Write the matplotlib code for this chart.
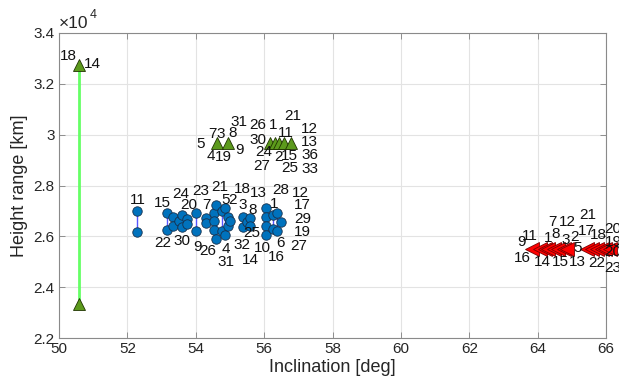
import matplotlib
matplotlib.use("Agg")
import matplotlib.pyplot as plt
from matplotlib.ticker import FuncFormatter
from collections import OrderedDict

plt.rcParams['font.family'] = ['Liberation Sans', 'DejaVu Sans']

# ---------------- data ----------------
blue_incl = [52.29, 52.29, 53.15, 53.15, 53.34, 53.34, 53.52, 53.59, 53.59, 53.73,
             53.73, 54.01, 54.01, 54.30, 54.30, 54.54, 54.54, 54.54, 54.59, 54.59,
             54.76, 54.76, 54.85, 54.85, 54.95, 54.95, 55.00, 55.37, 55.37, 55.50,
             55.59, 55.59, 56.05, 56.05, 56.05, 56.05, 56.27, 56.27, 56.38, 56.38,
             56.49]
blue_height = [26980, 26160, 26920, 26250, 26780, 26390, 26590, 26850, 26370, 26680,
               26500, 26920, 26220, 26720, 26530, 26920, 26590, 26260, 27250, 25910,
               26980, 26200, 27120, 26070, 26780, 26390, 26590, 26780, 26370, 26580,
               26720, 26390, 27120, 26780, 26390, 26070, 26850, 26290, 26920, 26220,
               26580]

green_incl = [50.58, 50.58, 54.63, 54.95, 56.17, 56.32, 56.44, 56.59, 56.78]
green_height = [32750, 23320, 29670, 29670, 29670, 29670, 29670, 29670, 29670]

red_incl = [63.83, 64.07, 64.21, 64.31, 64.48, 64.60, 64.77, 64.87, 65.43, 65.60,
            65.73, 65.87, 65.97, 66.12]
red_height = [25510] * 14

# label texts and the point index they belong to
blue_labels = ["11", "15", "24", "20", "23", "7", "21", "5", "2", "18", "3", "13", "8",
               "28", "1", "12", "17", "29", "19", "27", "22", "30", "9", "26", "4",
               "31", "32", "25", "14", "10", "6", "16"]
blue_label_idx = [0, 2, 7, 9, 11, 13, 18, 22, 24, 27, 27, 30, 30, 38, 36, 40, 40, 40,
                  40, 40, 3, 8, 12, 19, 23, 23, 28, 31, 31, 35, 39, 37]
green_labels = ["18", "14", "5", "7", "3", "8", "31", "4", "19", "9", "26", "1", "21",
                "11", "12", "30", "13", "24", "2", "15", "36", "27", "25", "33"]
green_label_idx = [0, 0, 2, 2, 2, 3, 3, 2, 2, 3, 4, 4, 8, 7, 8, 4, 8, 4, 5, 7, 8, 4, 8, 8]
red_labels = ["9", "11", "1", "8", "3", "2", "17", "18", "7", "12", "21", "5", "16",
              "14", "15", "13", "22", "20", "19", "20", "23"]
red_label_idx = [0, 0, 2, 3, 5, 6, 8, 10, 3, 6, 8, 7, 0, 2, 5, 7, 10, 12, 12, 12, 12]

# label placement offsets (pixels, layout only)
blue_off = [(1, 11), (-4, 10), (-1, 21), (2, 14), (5, 22), (0, 13), (4, 18), (1, 8),
            (4, 17), (0, 28), (0, 12), (8, 25), (3, 8), (4, 23), (1, 11), (19, 29),
            (21, 17), (22, 3), (21, -10), (18, -24), (-4, -13), (0, -14), (1, -16),
            (-8, -12), (1, -14), (1, -27), (-1, -18), (2, -7), (0, -34), (-3, -13),
            (3, -12), (3, -28)]
green_off = [(-10, 9), (14, 1), (-17, -1), (-5, 9), (3, 9), (4, 10), (11, 21), (-6, -13),
             (6, -14), (11, -7), (-12, 18), (3, 18), (2, 27), (2, 10), (19, 14),
             (-12, 3), (19, 1), (-6, -9), (3, -14), (5, -13), (19, -12), (-8, -23),
             (-1, -25), (19, -26)]
red_off = [(-10, 7), (-2, 13), (3, 11), (7, 15), (8, 9), (11, 12), (0, 18), (2, 14),
           (4, 27), (3, 27), (1, 34), (10, 1), (-9, -9), (-2, -13), (2, -13), (10, -13),
           (0, -14), (8, 20), (8, 7), (8, -3), (8, -19)]

x_ticks = [50, 52, 54, 56, 58, 60, 62, 64, 66]
y_ticks = [22000, 24000, 26000, 28000, 30000, 32000, 34000]

# ---------------- figure ----------------
fig = plt.figure(figsize=(6.19, 3.85), dpi=100)
ax = fig.add_axes([59 / 619, 1 - 338 / 385, 547 / 619, 305 / 385])

def range_lines(xs, ys, color, lw, zorder):
    groups = OrderedDict()
    for x, y in zip(xs, ys):
        groups.setdefault(x, []).append(y)
    for x, hs in groups.items():
        if len(hs) > 1:
            ax.plot([x, x], [min(hs), max(hs)], color=color, lw=lw, zorder=zorder,
                    solid_capstyle='butt')

range_lines(blue_incl, blue_height, '#5555ff', 1.0, 2)
range_lines(green_incl, green_height, '#66ff66', 2.0, 2)

ax.plot(blue_incl, blue_height, 'o', ms=6.8, mfc='#0072BD', mec='#17304d', mew=0.6,
        ls='none', zorder=3)
ax.plot(green_incl, green_height, '^', ms=8, mfc='#5c9a1c', mec='#1f3300', mew=0.6,
        ls='none', zorder=3, clip_on=False)
ax.plot(red_incl, red_height, '<', ms=9.5, mfc='#ff0000', mec='#7a0000', mew=0.6,
        ls='none', zorder=3, clip_on=False)

def put_labels(texts, idxs, offs, xs, ys):
    for t, i, (dx, dy) in zip(texts, idxs, offs):
        ax.annotate(t, xy=(xs[i], ys[i]), xytext=(dx, dy), textcoords='offset pixels',
                    ha='center', va='center', fontsize=11, color='#111111',
                    annotation_clip=False, zorder=4)

put_labels(blue_labels, blue_label_idx, blue_off, blue_incl, blue_height)
put_labels(green_labels, green_label_idx, green_off, green_incl, green_height)
put_labels(red_labels, red_label_idx, red_off, red_incl, red_height)

ax.set_xlim(50, 66)
ax.set_ylim(22000, 34000)
ax.set_xticks(x_ticks)
ax.set_yticks(y_ticks)
ax.yaxis.set_major_formatter(FuncFormatter(lambda v, p: '%g' % (v / 1e4)))
ax.grid(True, color='#e3e3e3', lw=0.8)
ax.set_axisbelow(True)
ax.tick_params(direction='in', length=4, width=0.6, colors='#808080',
               labelcolor='#262626', labelsize=11, top=True, right=True, pad=3)
for s in ax.spines.values():
    s.set_color('#8a8a8a')
    s.set_linewidth(0.8)

ax.set_xlabel('Inclination [deg]', fontsize=13, color='#262626', labelpad=2)
ax.set_ylabel('Height range [km]', fontsize=13, color='#262626', labelpad=4)
# exponent label (x10^4) at the top-left of the axes
ax.annotate('\u00d710', xy=(0, 1), xycoords='axes fraction', xytext=(0, 2),
            textcoords='offset pixels', ha='left', va='bottom', fontsize=12.5,
            color='#262626')
ax.annotate('4', xy=(0, 1), xycoords='axes fraction', xytext=(31, 12),
            textcoords='offset pixels', ha='left', va='bottom', fontsize=9,
            color='#262626')

fig.savefig('out.png', dpi=100)
